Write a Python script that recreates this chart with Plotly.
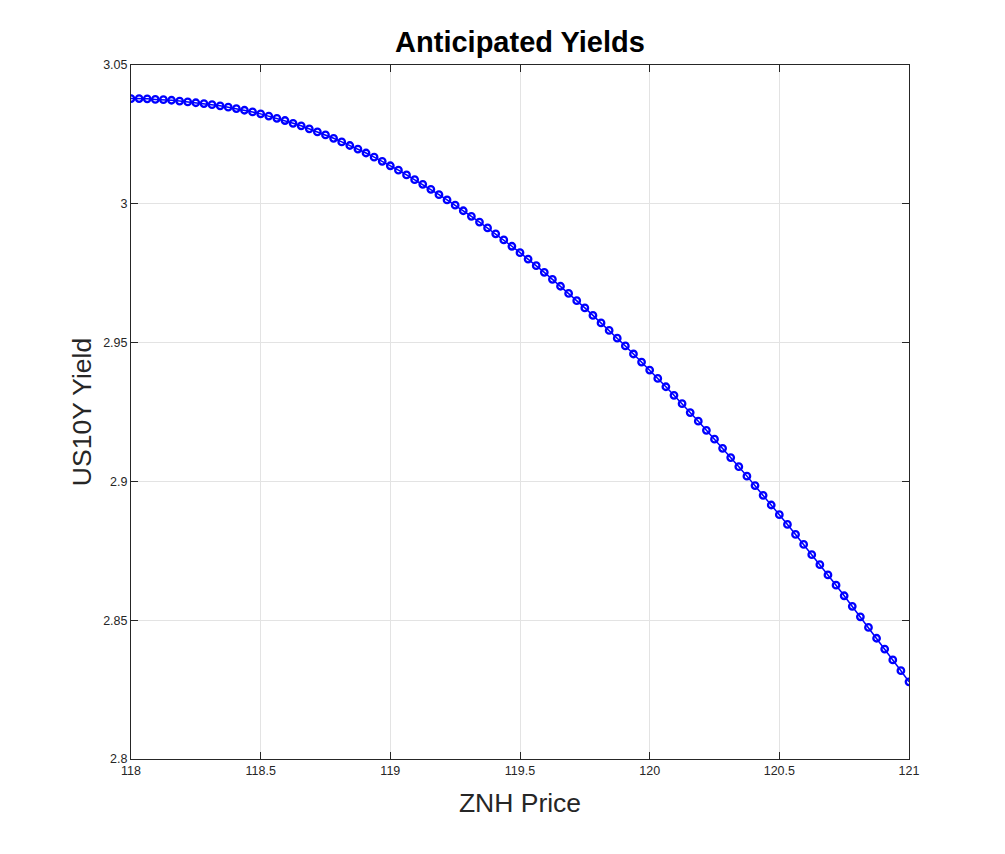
import plotly.graph_objects as go

# --------------------------
# Data
# --------------------------
znh_price = [
    118.0, 118.03125, 118.0625, 118.09375, 118.125, 118.15625, 118.1875, 118.21875,
    118.25, 118.28125, 118.3125, 118.34375, 118.375, 118.40625, 118.4375, 118.46875,
    118.5, 118.53125, 118.5625, 118.59375, 118.625, 118.65625, 118.6875, 118.71875,
    118.75, 118.78125, 118.8125, 118.84375, 118.875, 118.90625, 118.9375, 118.96875,
    119.0, 119.03125, 119.0625, 119.09375, 119.125, 119.15625, 119.1875, 119.21875,
    119.25, 119.28125, 119.3125, 119.34375, 119.375, 119.40625, 119.4375, 119.46875,
    119.5, 119.53125, 119.5625, 119.59375, 119.625, 119.65625, 119.6875, 119.71875,
    119.75, 119.78125, 119.8125, 119.84375, 119.875, 119.90625, 119.9375, 119.96875,
    120.0, 120.03125, 120.0625, 120.09375, 120.125, 120.15625, 120.1875, 120.21875,
    120.25, 120.28125, 120.3125, 120.34375, 120.375, 120.40625, 120.4375, 120.46875,
    120.5, 120.53125, 120.5625, 120.59375, 120.625, 120.65625, 120.6875, 120.71875,
    120.75, 120.78125, 120.8125, 120.84375, 120.875, 120.90625, 120.9375, 120.96875,
    121.0,
]

us10y_yield = [
    3.0379, 3.0379, 3.0378, 3.0376, 3.0375, 3.0373, 3.0370, 3.0367,
    3.0364, 3.0361, 3.0357, 3.0353, 3.0348, 3.0343, 3.0337, 3.0331,
    3.0324, 3.0316, 3.0308, 3.0300, 3.0290, 3.0281, 3.0270, 3.0259,
    3.0248, 3.0236, 3.0223, 3.0210, 3.0197, 3.0183, 3.0168, 3.0153,
    3.0137, 3.0121, 3.0104, 3.0087, 3.0070, 3.0052, 3.0033, 3.0014,
    2.9995, 2.9975, 2.9955, 2.9934, 2.9913, 2.9892, 2.9870, 2.9847,
    2.9824, 2.9801, 2.9777, 2.9753, 2.9728, 2.9703, 2.9677, 2.9651,
    2.9625, 2.9598, 2.9571, 2.9544, 2.9516, 2.9488, 2.9459, 2.9430,
    2.9401, 2.9371, 2.9341, 2.9310, 2.9280, 2.9248, 2.9217, 2.9184,
    2.9152, 2.9119, 2.9086, 2.9053, 2.9019, 2.8985, 2.8950, 2.8915,
    2.8880, 2.8845, 2.8809, 2.8773, 2.8736, 2.8700, 2.8663, 2.8626,
    2.8588, 2.8550, 2.8512, 2.8474, 2.8435, 2.8396, 2.8357, 2.8318,
    2.8278,
]

x_ticks = [118, 118.5, 119, 119.5, 120, 120.5, 121]
x_ticktext = ["118", "118.5", "119", "119.5", "120", "120.5", "121"]
y_ticks = [2.8, 2.85, 2.9, 2.95, 3.0, 3.05]
y_ticktext = ["2.8", "2.85", "2.9", "2.95", "3", "3.05"]

FONT = "Liberation Sans, Arial, sans-serif"

# --------------------------
# Figure
# --------------------------
fig = go.Figure()
fig.add_trace(go.Scatter(
    x=znh_price, y=us10y_yield, mode="lines+markers",
    line=dict(color="#0000ff", width=1.5),
    marker=dict(symbol="circle-open", size=6.5, color="#0000ff", line=dict(width=2.3, color="#0000ff")),
    showlegend=False,
))

axis_common = dict(
    showline=True, linecolor="#262626", linewidth=1, mirror="ticks",
    ticks="inside", ticklen=7, tickcolor="#262626", tickwidth=1,
    showgrid=True, gridcolor="#e3e3e3", gridwidth=1, zeroline=False,
    tickfont=dict(family=FONT, size=12.5, color="#262626"),
)

fig.update_xaxes(
    range=[118, 121], tickvals=x_ticks, ticktext=x_ticktext,
    title=dict(text="ZNH Price", standoff=16,
               font=dict(family=FONT, size=26.5, color="#262626")),
    **axis_common,
)
fig.update_yaxes(
    range=[2.8, 3.05], tickvals=y_ticks, ticktext=y_ticktext,
    title=dict(text="US10Y Yield", standoff=3,
               font=dict(family=FONT, size=26.5, color="#262626")),
    **axis_common,
)

fig.update_layout(
    width=1005, height=854,
    margin=dict(l=123, r=104, t=57, b=103),
    paper_bgcolor="white", plot_bgcolor="white",
    title=dict(text="<b>Anticipated Yields</b>", x=0.5, xref="paper", xanchor="center",
               y=0.960, yanchor="middle", yref="container",
               font=dict(family=FONT, size=29, color="#000000")),
)

fig.write_html("out.html")
